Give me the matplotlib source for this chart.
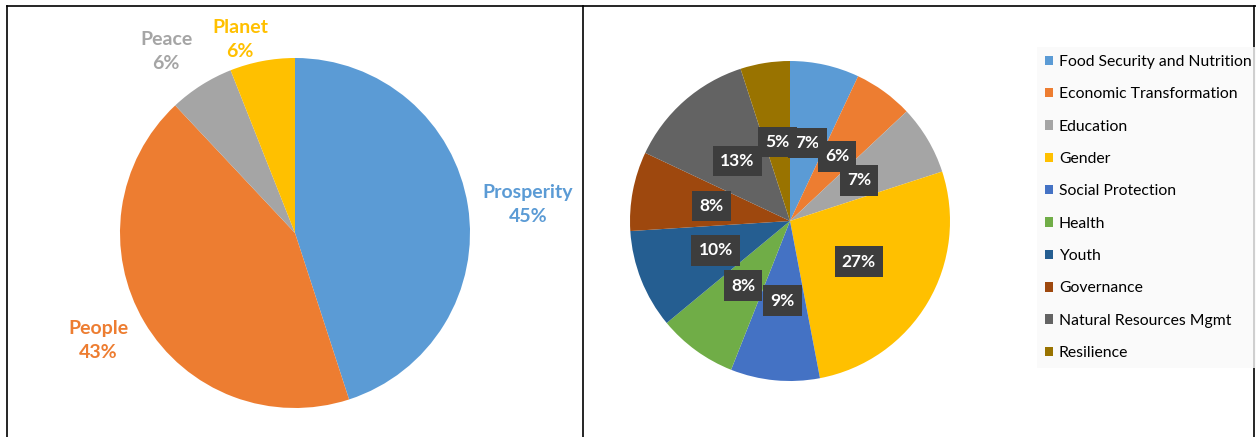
# two pie charts: pillars (left) and thematic areas (right)
import matplotlib.pyplot as plt
from matplotlib.lines import Line2D
import numpy as np

plt.rcParams['font.family'] = ['Lato', 'DejaVu Sans']

pilares = ['Prosperity', 'People', 'Peace', 'Planet']
pct_pilares = [45, 43, 6, 6]
col_pilares = ['#5B9BD5', '#ED7D31', '#A5A5A5', '#FFC000']

areas = ['Food Security and Nutrition', 'Economic Transformation', 'Education',
         'Gender', 'Social Protection', 'Health', 'Youth', 'Governance',
         'Natural Resources Mgmt', 'Resilience']
pct_areas = [7, 6, 7, 27, 9, 8, 10, 8, 13, 5]
col_areas = ['#5B9BD5', '#ED7D31', '#A5A5A5', '#FFC000', '#4472C4',
             '#70AD47', '#255E91', '#9E480E', '#636363', '#997300']

W, H = 1256, 437
fig = plt.figure(figsize=(W / 100, H / 100), dpi=100)


def ejes(x0, x1, y0, y1, cx, cy, r):
    # axes in pixel coords (y from top), data units so that radius 1 = r px
    ax = fig.add_axes([x0 / W, 1 - y1 / H, (x1 - x0) / W, (y1 - y0) / H])
    return ax, ((x0 - cx) / r, (x1 - cx) / r), ((cy - y1) / r, (cy - y0) / r)


# ---- left pie
ax1, xl, yl = ejes(7, 583, 6, 437, 295, 233, 175)
wedges, _ = ax1.pie(pct_pilares, colors=col_pilares, startangle=90,
                    counterclock=False, wedgeprops=dict(linewidth=0))
dist = [1.34, 1.28, 1.27, 1.15]
giro = [-2, -2, 3, 5]   # small angle shift of the labels
for w, nombre, p, c, d, g in zip(wedges, pilares, pct_pilares, col_pilares, dist, giro):
    ang = np.deg2rad((w.theta1 + w.theta2) / 2 + g)
    ax1.text(d * np.cos(ang), d * np.sin(ang), f'{nombre}\n{p}%', color=c,
             ha='center', va='center', fontsize=14, fontweight='bold',
             linespacing=1.5)
ax1.set_xlim(xl)
ax1.set_ylim(yl)
ax1.set_aspect('auto')

# ---- right pie
ax2, xl, yl = ejes(583, 1035, 6, 437, 790, 221, 160)
wedges2, _, autot = ax2.pie(pct_areas, colors=col_areas, startangle=90,
                            counterclock=False, autopct='%1.0f%%',
                            pctdistance=0.5, wedgeprops=dict(linewidth=0))
for t in autot:
    t.set(color='white', fontsize=12.5, fontweight='bold')
    t.set_bbox(dict(boxstyle='square,pad=0.42', fc='#3d3d3d', ec='none'))
ax2.set_xlim(xl)
ax2.set_ylim(yl)
ax2.set_aspect('auto')

leg = fig.legend(wedges2, areas, loc='upper left',
                 bbox_to_anchor=(1037 / W, 1 - 47 / H), frameon=True,
                 fontsize=11.3, handlelength=0.55, handleheight=0.55,
                 handletextpad=0.35, labelspacing=1.17, borderpad=0.5,
                 borderaxespad=0)
leg.get_frame().set_facecolor('#f9f9f9')
leg.get_frame().set_edgecolor('none')
leg.get_frame().set_boxstyle('square', pad=0)

# ---- cell borders
for (xa, ya, xb, yb) in [(7, 6, 1256, 6), (7, 6, 7, 437),
                         (583, 6, 583, 437), (1254, 6, 1254, 437)]:
    fig.add_artist(Line2D([xa / W, xb / W], [1 - ya / H, 1 - yb / H],
                          color='black', lw=1.2, transform=fig.transFigure))

fig.savefig('out.png', dpi=100)
